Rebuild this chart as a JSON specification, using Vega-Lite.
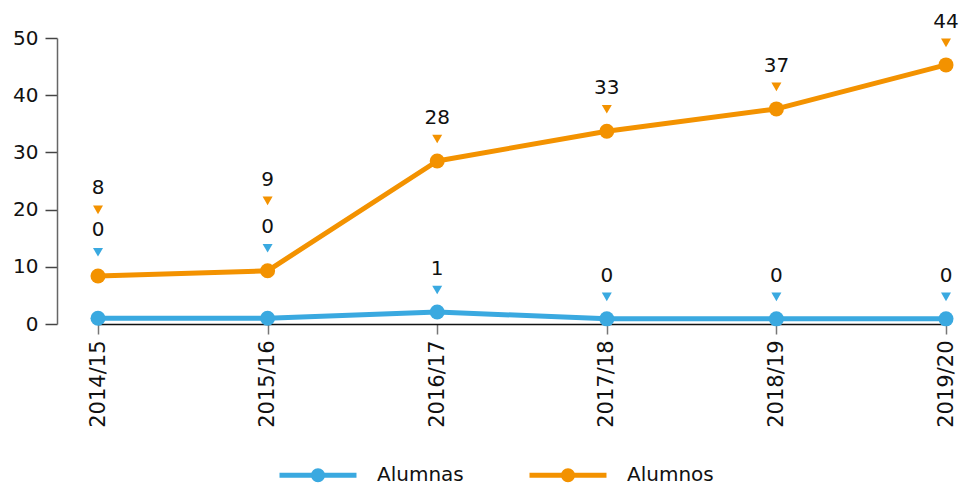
{
  "$schema": "https://vega.github.io/schema/vega-lite/v6.json",
  "width": 905,
  "height": 286,
  "autosize": {"type": "none"},
  "padding": {"left": 57, "top": 38, "right": 0, "bottom": 161},
  "config": {"font": "DejaVu Sans", "view": {"stroke": null}},
  "data": {
    "values": [
      {"year": "2014/15", "serie": "Alumnas", "value": 1.0, "label": "0"},
      {"year": "2015/16", "serie": "Alumnas", "value": 1.0, "label": "0"},
      {"year": "2016/17", "serie": "Alumnas", "value": 2.1, "label": "1"},
      {"year": "2017/18", "serie": "Alumnas", "value": 0.9, "label": "0"},
      {"year": "2018/19", "serie": "Alumnas", "value": 0.9, "label": "0"},
      {"year": "2019/20", "serie": "Alumnas", "value": 0.9, "label": "0"},
      {"year": "2014/15", "serie": "Alumnos", "value": 8.4, "label": "8"},
      {"year": "2015/16", "serie": "Alumnos", "value": 9.3, "label": "9"},
      {"year": "2016/17", "serie": "Alumnos", "value": 28.5, "label": "28"},
      {"year": "2017/18", "serie": "Alumnos", "value": 33.7, "label": "33"},
      {"year": "2018/19", "serie": "Alumnos", "value": 37.6, "label": "37"},
      {"year": "2019/20", "serie": "Alumnos", "value": 45.3, "label": "44"}
    ]
  },
  "encoding": {
    "x": {
      "field": "year",
      "type": "ordinal",
      "scale": {"type": "point", "range": [41, 889], "padding": 0},
      "axis": {
        "title": null,
        "labelAngle": -90,
        "labelFontSize": 21,
        "labelColor": "#111111",
        "labelPadding": 6,
        "tickSize": 10,
        "tickColor": "#777777",
        "tickWidth": 1.5,
        "domainColor": "#111111",
        "domainWidth": 1.5
      }
    },
    "y": {
      "field": "value",
      "type": "quantitative",
      "scale": {"domain": [0, 50], "nice": false},
      "axis": {
        "title": null,
        "values": [0, 10, 20, 30, 40, 50],
        "grid": false,
        "labelFontSize": 20,
        "labelColor": "#111111",
        "labelPadding": 7,
        "tickSize": 12,
        "tickColor": "#444444",
        "tickWidth": 1.5,
        "domainColor": "#666666",
        "domainWidth": 1.5
      }
    }
  },
  "layer": [
    {
      "mark": {"type": "line", "strokeWidth": 5, "strokeCap": "round", "strokeJoin": "round"},
      "encoding": {
        "color": {
          "field": "serie",
          "type": "nominal",
          "scale": {"domain": ["Alumnas", "Alumnos"], "range": ["#3aa9e0", "#f39200"]},
          "legend": {
            "orient": "none",
            "legendX": 239,
            "legendY": 415,
            "direction": "horizontal",
            "title": null,
            "symbolType": "M-2,0L2,0M0.234,0A0.234,0.234,0,1,1,-0.234,0A0.234,0.234,0,1,1,0.234,0M0.104,0A0.104,0.104,0,1,1,-0.104,0A0.104,0.104,0,1,1,0.104,0",
            "symbolSize": 1482,
            "symbolStrokeWidth": 5,
            "labelFontSize": 20,
            "labelColor": "#111111",
            "labelOffset": 37,
            "columnPadding": 55
          }
        }
      }
    },
    {
      "mark": {"type": "point", "filled": true, "size": 225, "opacity": 1},
      "encoding": {
        "color": {"field": "serie", "type": "nominal", "legend": null}
      }
    },
    {
      "mark": {
        "type": "point",
        "shape": "triangle-down",
        "filled": true,
        "size": 100,
        "opacity": 1,
        "yOffset": {"expr": "datum.year == '2014/15' ? -66 : datum.year == '2015/16' ? -70 : -22"}
      },
      "encoding": {
        "color": {"field": "serie", "type": "nominal", "legend": null}
      }
    },
    {
      "mark": {
        "type": "text",
        "fontSize": 20,
        "color": "#111111",
        "baseline": "middle",
        "dy": {"expr": "datum.year == '2014/15' ? -88 : datum.year == '2015/16' ? -91 : -43"}
      },
      "encoding": {
        "text": {"field": "label"}
      }
    }
  ]
}
